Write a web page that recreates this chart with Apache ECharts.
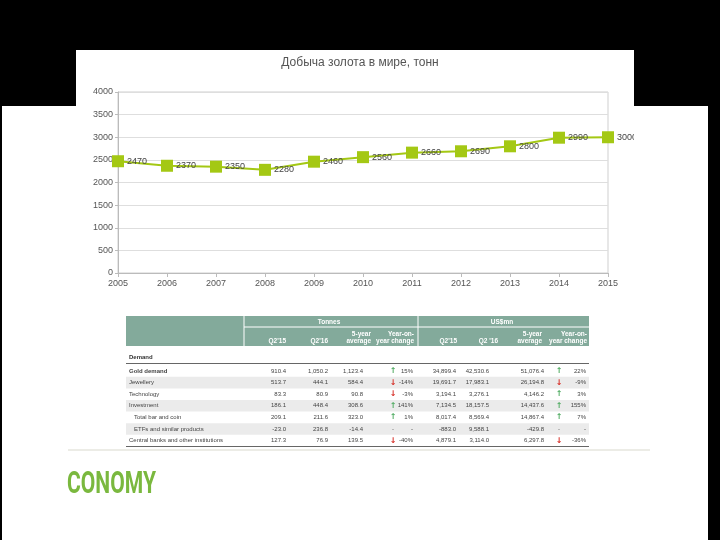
<!DOCTYPE html>
<html><head><meta charset="utf-8">
<script src="https://cdn.jsdelivr.net/npm/echarts@6/dist/echarts.min.js"></script>
<style>html,body{margin:0;padding:0;background:#000}#c{width:720px;height:540px}</style>
</head><body><div id="c"></div>
<script>
// ---- chart data ----
const chartTitle = 'Добыча золота в мире, тонн';
const years = ['2005','2006','2007','2008','2009','2010','2011','2012','2013','2014','2015'];
const production = [2470, 2370, 2350, 2280, 2460, 2560, 2660, 2690, 2800, 2990, 3000];

// ---- table data ----
const headerGroups = ['Tonnes', 'US$mn'];
const headerCols = ["Q2'15", "Q2'16", "5-year\naverage", "Year-on-\nyear change", "Q2'15", "Q2 '16", "5-year\naverage", "Year-on-\nyear change"];
const sectionLabel = 'Demand';
const rowLabels = ['Gold demand', 'Jewellery', 'Technology', 'Investment', 'Total bar and coin', 'ETFs and similar products', 'Central banks and other institutions'];
const rowIndent = [0, 0, 0, 0, 1, 1, 0];
const rowBold = [1, 0, 0, 0, 0, 0, 0];
const rowShaded = [0, 1, 0, 1, 0, 1, 0];
const tonQ215 = ['910.4', '513.7', '83.3', '186.1', '209.1', '-23.0', '127.3'];
const tonQ216 = ['1,050.2', '444.1', '80.9', '448.4', '211.6', '236.8', '76.9'];
const ton5yr = ['1,123.4', '584.4', '90.8', '308.6', '323.0', '-14.4', '139.5'];
const tonArrow = ['up', 'down', 'down', 'up', 'up', '-', 'down'];
const tonYoY = ['15%', '-14%', '-3%', '141%', '1%', '-', '-40%'];
const usdQ215 = ['34,899.4', '19,691.7', '3,194.1', '7,134.5', '8,017.4', '-883.0', '4,879.1'];
const usdQ216 = ['42,530.6', '17,983.1', '3,276.1', '18,157.5', '8,569.4', '9,588.1', '3,114.0'];
const usd5yr = ['51,076.4', '26,194.8', '4,146.2', '14,437.6', '14,867.4', '-429.8', '6,297.8'];
const usdArrow = ['up', 'down', 'up', 'up', 'up', '-', 'down'];
const usdYoY = ['22%', '-9%', '3%', '155%', '7%', '-', '-36%'];
const brandText = 'CONOMY';

// ---- layout ----
const F = '"Liberation Sans", Arial, sans-serif';
const green = '#a4c814';
const tblL = 126, tblR = 589, hdrTop = 316, hdrMid = 327, hdrBot = 346;
const rowY0 = 371, rowStep = 11.6;
const numCols = [
  {data: tonQ215, right: 286}, {data: tonQ216, right: 328}, {data: ton5yr, right: 363},
  {data: tonYoY, right: 413}, {data: usdQ215, right: 456}, {data: usdQ216, right: 489},
  {data: usd5yr, right: 544}, {data: usdYoY, right: 586}
];
const arrowCols = [{data: tonArrow, x: 393}, {data: usdArrow, x: 559}];
const hdrRight = [286, 328, 371, 414, 457, 498, 542, 587];
const groupCenters = [329, 502];

const g = [];
g.push({type: 'rect', z: -10, silent: true, shape: {x: 76, y: 50, width: 558, height: 57}, style: {fill: '#fff'}});
g.push({type: 'rect', z: -10, silent: true, shape: {x: 2, y: 106, width: 706, height: 434}, style: {fill: '#fff'}});
// crop of the last label, as in the source image
g.push({type: 'rect', z: 100, silent: true, shape: {x: 634, y: 126, width: 30, height: 20}, style: {fill: '#fff'}});

// table header
g.push({type: 'rect', z: 5, shape: {x: tblL, y: hdrTop, width: tblR - tblL, height: hdrBot - hdrTop}, style: {fill: '#83aa9b'}});
g.push({type: 'line', z: 6, shape: {x1: 244, y1: hdrTop, x2: 244, y2: hdrBot}, style: {stroke: '#fff', lineWidth: 1}});
g.push({type: 'line', z: 6, shape: {x1: 418, y1: hdrTop, x2: 418, y2: hdrBot}, style: {stroke: '#fff', lineWidth: 1}});
g.push({type: 'line', z: 6, shape: {x1: 244, y1: hdrMid, x2: tblR, y2: hdrMid}, style: {stroke: '#fff', lineWidth: 1}});
headerGroups.forEach((t, i) => g.push({type: 'text', z: 7, x: groupCenters[i], y: 322,
  style: {text: t, fill: '#fff', font: 'bold 6.5px ' + F, textAlign: 'center', textVerticalAlign: 'middle'}}));
headerCols.forEach((t, i) => g.push({type: 'text', z: 7, x: hdrRight[i], y: 345,
  style: {text: t, fill: '#fff', font: 'bold 6.5px ' + F, textAlign: 'right', textVerticalAlign: 'bottom', lineHeight: 7.5}}));

g.push({type: 'text', z: 7, x: 129, y: 357, style: {text: sectionLabel, fill: '#333', font: 'bold 6px ' + F, textVerticalAlign: 'middle'}});

// rows
rowLabels.forEach((lab, r) => {
  const cy = rowY0 + r * rowStep;
  if (rowShaded[r]) g.push({type: 'rect', z: 5, shape: {x: tblL, y: cy - 5.8, width: tblR - tblL, height: 11.6}, style: {fill: '#ebebeb'}});
  const fw = rowBold[r] ? 'bold ' : '';
  g.push({type: 'text', z: 7, x: 129 + rowIndent[r] * 5, y: cy, style: {text: lab, fill: '#444', font: fw + '6px ' + F, textVerticalAlign: 'middle'}});
  numCols.forEach(c => g.push({type: 'text', z: 7, x: c.right, y: cy,
    style: {text: c.data[r], fill: '#444', font: '6px ' + F, textAlign: 'right', textVerticalAlign: 'middle'}}));
  arrowCols.forEach(c => {
    const a = c.data[r];
    if (a === '-') {
      g.push({type: 'text', z: 7, x: c.x, y: cy, style: {text: '-', fill: '#666', font: '6px ' + F, textAlign: 'center', textVerticalAlign: 'middle'}});
      return;
    }
    const txt = a === 'up' ? '↑' : '↓';
    const col = a === 'up' ? '#4daa5f' : '#d62a22';
    g.push({type: 'text', z: 7, x: c.x, y: cy, style: {text: txt, fill: col, font: 'bold 8px "DejaVu Sans", sans-serif', textAlign: 'center', textVerticalAlign: 'middle'}});
  });
});
g.push({type: 'line', z: 8, shape: {x1: tblL, y1: 363.5, x2: tblR, y2: 363.5}, style: {stroke: '#666', lineWidth: 1}});
g.push({type: 'line', z: 8, shape: {x1: tblL, y1: 446.5, x2: tblR, y2: 446.5}, style: {stroke: '#666', lineWidth: 1}});

// footer
g.push({type: 'line', z: 5, shape: {x1: 68, y1: 450, x2: 650, y2: 450}, style: {stroke: '#e6e6de', lineWidth: 1.5}});
g.push({type: 'text', z: 7, x: 67, y: 470, scaleX: 0.68, style: {text: brandText, fill: '#7ab83e', font: 'bold 31px Roboto, sans-serif', textVerticalAlign: 'top'}});

const chart = echarts.init(document.getElementById('c'), null, {renderer: 'canvas'});
chart.setOption({
  backgroundColor: '#000',
  animation: false,
  title: {text: chartTitle, left: 355, top: 52, textAlign: 'center',
    textStyle: {fontFamily: F, fontSize: 12, fontWeight: 'normal', color: '#555'}},
  grid: {left: 118, right: 112, top: 92, bottom: 267, show: true, borderColor: '#cfcfcf', borderWidth: 1, backgroundColor: 'transparent'},
  xAxis: {type: 'category', data: years, boundaryGap: false,
    axisLine: {lineStyle: {color: '#bbb'}}, axisTick: {show: true, length: 4, lineStyle: {color: '#bbb'}},
    axisLabel: {fontFamily: F, fontSize: 9, color: '#555', margin: 6}},
  yAxis: {type: 'value', min: 0, max: 4000, interval: 500,
    axisLine: {show: true, lineStyle: {color: '#bbb'}}, axisTick: {show: true, length: 3, lineStyle: {color: '#bbb'}},
    splitLine: {lineStyle: {color: '#dedede'}},
    axisLabel: {fontFamily: F, fontSize: 9, color: '#555', margin: 5, formatter: v => String(v)}},
  series: [{type: 'line', data: production, symbol: 'rect', symbolSize: 12,
    itemStyle: {color: green}, lineStyle: {color: green, width: 2},
    label: {show: true, position: 'right', distance: 3, fontFamily: F, fontSize: 9, color: '#444'}}],
  graphic: {elements: g}
});
</script></body></html>
